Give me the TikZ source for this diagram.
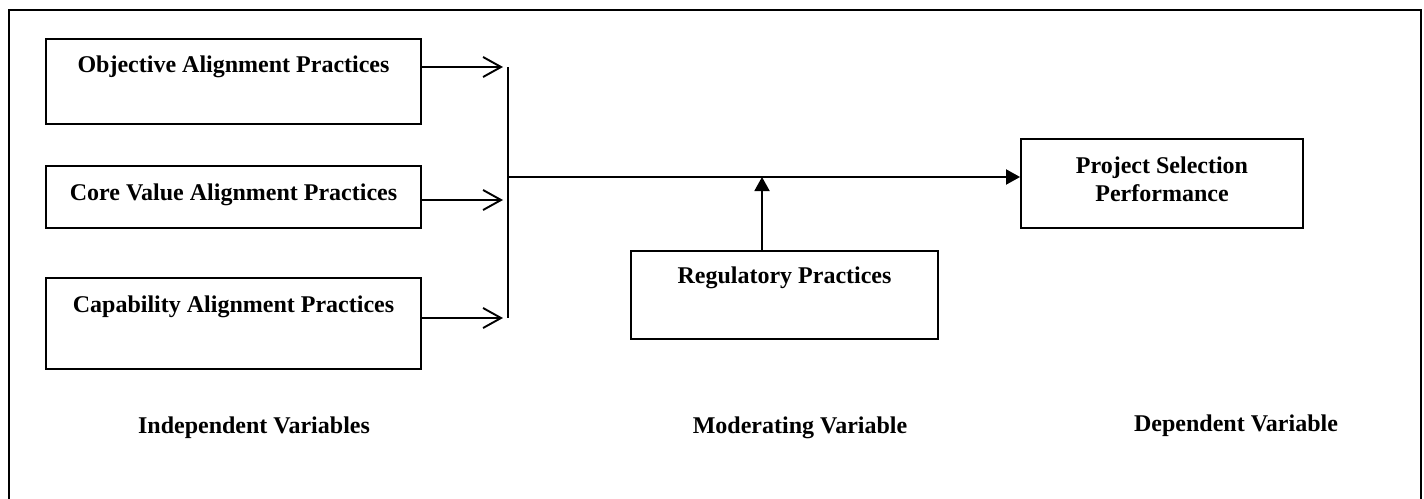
\documentclass[tikz,border=0pt]{standalone}
\usepackage{fontspec}
\setmainfont{Liberation Serif}
\usetikzlibrary{arrows.meta}
\begin{document}
\begin{tikzpicture}[x=1pt,y=-1pt,
  box/.style={draw=black,line width=1.9pt,rectangle,inner sep=0pt},
  txt/.style={font=\fontsize{24}{28}\selectfont\bfseries,inner sep=0pt,anchor=base,align=center},
  conn/.style={line width=1.9pt},
  openarrow/.style={conn,-{Straight Barb[length=18pt,width=20pt,line width=1.9pt]}},
  fillarrow/.style={conn,-{Triangle[length=14pt,width=15pt]}}]
\useasboundingbox (0,0) rectangle (1424,498);
\clip (0,0) rectangle (1424,498);

% outer frame (open at the bottom)
\draw[line width=2.3pt] (9,510) -- (9,10) -- (1421,10) -- (1421,510);

% boxes
\node[box,minimum width=375pt,minimum height=85pt] (obj) at (233.5,81.5) {};
\node[box,minimum width=375pt,minimum height=62pt] (core) at (233.5,197) {};
\node[box,minimum width=375pt,minimum height=91pt] (cap) at (233.5,323.5) {};
\node[box,minimum width=307pt,minimum height=88pt] (reg) at (784.5,295) {};
\node[box,minimum width=282pt,minimum height=89pt] (psp) at (1162,183.5) {};

% box texts
\node[txt] (tobj) at (233.5,72) {Objective Alignment Practices};
\node[txt] (tcore) at (233.5,200) {Core Value Alignment Practices};
\node[txt] (tcap) at (233.5,312) {Capability Alignment Practices};
\node[txt] (treg) at (784.5,283) {Regulatory Practices};
\node[txt] (tpsp) at (1162,201) {Project Selection\\Performance};

% column captions
\node[txt] (civ) at (254,433) {Independent Variables};
\node[txt] (cmv) at (800,433) {Moderating Variable};
\node[txt] (cdv) at (1236,431) {Dependent Variable};

% junction points
\coordinate (a1) at (503,67);
\coordinate (a2) at (503,200);
\coordinate (a3) at (503,318);
\coordinate (vtop) at (508,67);
\coordinate (vbot) at (508,318);
\coordinate (hstart) at (508,177);
\coordinate (mod) at (762,177);

% inputs into the collector bar
\draw[openarrow] (obj.east |- a1) -- (a1);
\draw[openarrow] (core.east |- a2) -- (a2);
\draw[openarrow] (cap.east |- a3) -- (a3);
\draw[conn] (vtop) -- (vbot);

% main path to the outcome
\draw[fillarrow] (hstart) -- (psp.west |- hstart);

% moderator
\draw[fillarrow] (reg.north -| mod) -- (mod);
\end{tikzpicture}
\end{document}
